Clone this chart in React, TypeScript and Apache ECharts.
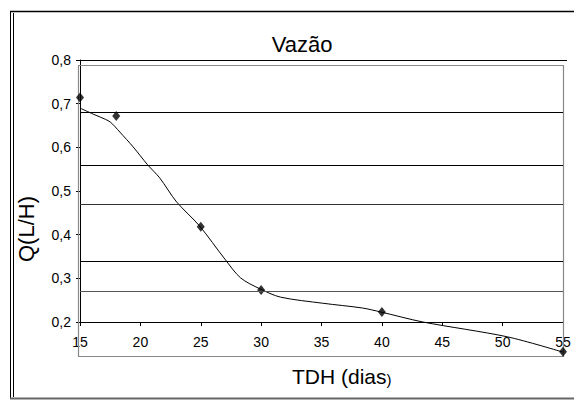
import React, { useEffect, useRef } from "react";
import * as echarts from "echarts";

const pointX = [15, 18, 25, 30, 40, 55];
const pointY = [0.714, 0.672, 0.418, 0.273, 0.223, 0.132];

const curveX = [15, 16.1, 16.7, 17.5, 18.3, 19.4, 20.6, 21.6, 23.0, 24.9, 27.0, 28.3, 29.9, 31.6, 35.1, 38.4, 39.9, 43.4, 50.4, 55];
const curveY = [0.690, 0.676, 0.669, 0.658, 0.635, 0.601, 0.560, 0.530, 0.475, 0.420, 0.344, 0.301, 0.276, 0.257, 0.243, 0.232, 0.223, 0.200, 0.166, 0.131];

const gridLevels = [0.675, 0.564, 0.475, 0.344, 0.266];
const gridColors = ["#000", "#000", "#333", "#000", "#555"];

const titleText = "Vazão";
const yName = "Q(L/H)";

const FONT = "Liberation Sans, Arial, sans-serif";

export default function App() {
  const ref = useRef<HTMLDivElement>(null);
  useEffect(() => {
    if (!ref.current) return;
    const chart = echarts.init(ref.current, null, { renderer: "svg" });
    const option: any = {
      animation: false,
      backgroundColor: "#fff",
      textStyle: { fontFamily: FONT },
      grid: { left: 80, right: 11, top: 60, bottom: 78 },
      xAxis: {
        type: "value",
        min: 15,
        max: 55,
        interval: 5,
        axisLine: { show: true, lineStyle: { color: "#000", width: 1 } },
        axisTick: { show: true, length: 4, lineStyle: { color: "#000" } },
        axisLabel: { color: "#000", fontSize: 14, margin: 13, fontFamily: FONT },
        splitLine: { show: false },
      },
      yAxis: {
        type: "value",
        min: 0.2,
        max: 0.8,
        interval: 0.1,
        axisLine: { show: true, lineStyle: { color: "#000", width: 1 } },
        axisTick: { show: true, length: 4, lineStyle: { color: "#000" } },
        axisLabel: {
          color: "#000",
          fontSize: 14,
          margin: 9,
          fontFamily: FONT,
          formatter: (v: number) => v.toFixed(1).replace(".", ","),
        },
        splitLine: { show: false },
      },
      series: [
        {
          type: "line",
          data: curveX.map((x, i) => [x, curveY[i]]),
          smooth: 0.3,
          showSymbol: false,
          clip: false,
          lineStyle: { color: "#000", width: 1 },
          markLine: {
            silent: true,
            symbol: "none",
            label: { show: false },
            data: gridLevels.map((v, i) => ({
              yAxis: v,
              lineStyle: { color: gridColors[i], width: 1, type: "solid" },
            })),
          },
          z: 3,
        },
        {
          type: "scatter",
          data: pointX.map((x, i) => [x, pointY[i]]),
          symbol: "diamond",
          symbolSize: [8, 10],
          clip: false,
          itemStyle: { color: "#000" },
          z: 4,
        },
      ],
      graphic: [
        { type: "line", shape: { x1: 10.5, y1: 11, x2: 10.5, y2: 399 }, style: { stroke: "#000", lineWidth: 1 } },
        { type: "line", shape: { x1: 13.5, y1: 13, x2: 13.5, y2: 397 }, style: { stroke: "#000", lineWidth: 1 } },
        { type: "line", shape: { x1: 10, y1: 11.5, x2: 574, y2: 11.5 }, style: { stroke: "#000", lineWidth: 1.5 } },
        { type: "line", shape: { x1: 10, y1: 398.5, x2: 574, y2: 398.5 }, style: { stroke: "#666", lineWidth: 2 } },
        { type: "rect", shape: { x: 78.5, y: 65.5, width: 485, height: 291 }, style: { fill: "none", stroke: "#888", lineWidth: 1.2 }, z: 1 },
        { type: "line", shape: { x1: 76, y1: 60.5, x2: 567, y2: 60.5 }, style: { stroke: "#000", lineWidth: 1 }, z: 2 },
        {
          type: "text",
          x: 302,
          y: 44,
          style: { text: titleText, font: `22px ${FONT}`, fill: "#000", textAlign: "center", textVerticalAlign: "middle" },
        },
        {
          type: "text",
          x: 26,
          y: 229,
          rotation: Math.PI / 2,
          style: { text: yName, font: `22px ${FONT}`, fill: "#000", textAlign: "center", textVerticalAlign: "middle" },
        },
        {
          type: "text",
          x: 292,
          y: 376,
          style: {
            text: "TDH (dias{s|)}",
            font: `21px ${FONT}`,
            fill: "#000",
            textAlign: "left",
            textVerticalAlign: "middle",
            rich: { s: { fontSize: 15, fontFamily: FONT, fill: "#000", padding: [6, 0, 0, 0] } },
          },
        },
      ],
    };
    chart.setOption(option);
    return () => chart.dispose();
  }, []);
  return <div ref={ref} style={{ position: "absolute", left: 0, top: 0, width: 574, height: 400 }} />;
}
